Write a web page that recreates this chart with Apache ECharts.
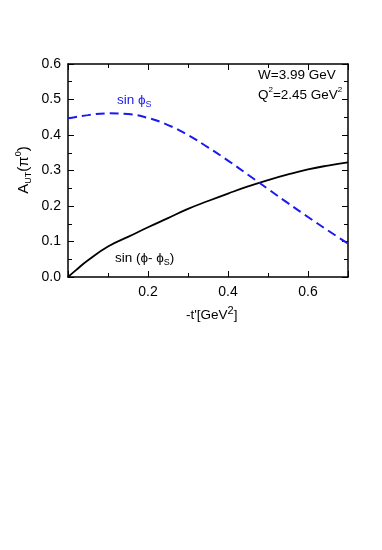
<!DOCTYPE html>
<html>
<head>
<meta charset="utf-8">
<script src="https://cdn.jsdelivr.net/npm/echarts@6/dist/echarts.min.js"></script>
<style>
html,body{margin:0;padding:0;background:#fff;}
#chart{width:382px;height:550px;}
</style>
</head>
<body>
<div id="chart"></div>
<script>
const tValues = [0, 0.02, 0.05, 0.1, 0.15, 0.2, 0.25, 0.3, 0.35, 0.4, 0.45, 0.5, 0.55, 0.6, 0.65, 0.7];
const sinPhiMinusPhiS = [0, 0.0195, 0.047, 0.086, 0.113, 0.140, 0.166, 0.192, 0.214, 0.235, 0.255, 0.273, 0.289, 0.303, 0.314, 0.323];
const sinPhiS = [0.447, 0.451, 0.456, 0.461, 0.459, 0.448, 0.428, 0.400, 0.365, 0.328, 0.288, 0.248, 0.208, 0.169, 0.131, 0.094];
const xTickLabels = ['0.2', '0.4', '0.6'];
const yTickLabels = ['0.0', '0.1', '0.2', '0.3', '0.4', '0.5', '0.6'];

const FONT = '"Liberation Sans", Arial, sans-serif';
const chart = echarts.init(document.getElementById('chart'), null, {renderer: 'canvas'});

function pairs(xs, ys) { return xs.map((x, i) => [x, ys[i]]); }

const axisCommon = {
  type: 'value',
  axisLine: {show: true, onZero: false, lineStyle: {color: '#000', width: 1.5}},
  axisTick: {show: true, inside: true, length: 6, lineStyle: {color: '#000', width: 1}},
  minorTick: {show: true, splitNumber: 2, length: 4, lineStyle: {color: '#000', width: 1}},
  splitLine: {show: false},
  minorSplitLine: {show: false}
};

chart.setOption({
  animation: false,
  backgroundColor: '#fff',
  grid: {left: 68, right: 34, top: 64, bottom: 273, containLabel: false},
  xAxis: [
    Object.assign({}, axisCommon, {
      position: 'bottom', min: 0, max: 0.7, interval: 0.2,
      axisLabel: {
        color: '#000', fontFamily: FONT, fontSize: 14, margin: 8,
        formatter: function (v) {
          const s = v.toFixed(1);
          return xTickLabels.indexOf(s) >= 0 ? s : '';
        }
      }
    }),
    Object.assign({}, axisCommon, {
      position: 'top', min: 0, max: 0.7, interval: 0.2,
      axisLabel: {show: false}
    })
  ],
  yAxis: [
    Object.assign({}, axisCommon, {
      position: 'left', min: 0, max: 0.6, interval: 0.1,
      axisLabel: {
        color: '#000', fontFamily: FONT, fontSize: 14, margin: 7,
        formatter: function (v) {
          const s = v.toFixed(1);
          return yTickLabels.indexOf(s) >= 0 ? s : '';
        }
      }
    }),
    Object.assign({}, axisCommon, {
      position: 'right', min: 0, max: 0.6, interval: 0.1,
      axisLabel: {show: false}
    })
  ],
  series: [
    {
      name: 'sin (ϕ- ϕS)', type: 'line', smooth: 0.5, symbol: 'none',
      xAxisIndex: 0, yAxisIndex: 0,
      lineStyle: {color: '#000', width: 1.8},
      data: pairs(tValues, sinPhiMinusPhiS)
    },
    {
      name: 'sin ϕS', type: 'line', smooth: 0.5, symbol: 'none',
      xAxisIndex: 0, yAxisIndex: 0,
      lineStyle: {color: '#1a1aee', width: 2, type: [9, 5]},
      data: pairs(tValues, sinPhiS)
    }
  ],
  graphic: [
    {
      type: 'text', left: 258, top: 68,
      style: {text: 'W=3.99 GeV', font: '13.5px ' + FONT, fill: '#000'}
    },
    {
      type: 'text', left: 258, top: 86,
      style: {
        text: '{n|Q}{s|2}{n|=2.45 GeV}{s|2}', fill: '#000',
        rich: {
          n: {fontFamily: FONT, fontSize: 13.5, fill: '#000', verticalAlign: 'bottom', lineHeight: 16},
          s: {fontFamily: FONT, fontSize: 8, fill: '#000', verticalAlign: 'top', lineHeight: 16, padding: [0, 0, 8, 0]}
        }
      }
    },
    {
      type: 'text', left: 117, top: 92,
      style: {
        text: '{n|sin ϕ}{s|S}', fill: '#1a1aee',
        rich: {
          n: {fontFamily: FONT, fontSize: 13.5, fill: '#1a1aee', lineHeight: 16},
          s: {fontFamily: FONT, fontSize: 9, fill: '#1a1aee', lineHeight: 16, padding: [8, 0, 0, 0]}
        }
      }
    },
    {
      type: 'text', left: 115, top: 250,
      style: {
        text: '{n|sin (ϕ- ϕ}{s|S}{n|)}', fill: '#000',
        rich: {
          n: {fontFamily: FONT, fontSize: 13.5, fill: '#000', lineHeight: 16},
          s: {fontFamily: FONT, fontSize: 9, fill: '#000', lineHeight: 16, padding: [8, 0, 0, 0]}
        }
      }
    },
    {
      type: 'text', left: 186, top: 304,
      style: {
        text: '{n|-t\'[GeV}{s|2}{n|]}', fill: '#000',
        rich: {
          n: {fontFamily: FONT, fontSize: 13.5, fill: '#000', lineHeight: 18, padding: [4, 0, 0, 0]},
          s: {fontFamily: FONT, fontSize: 11, fill: '#000', lineHeight: 18, padding: [0, 0, 4, 0]}
        }
      }
    },
    {
      type: 'text', x: 24, y: 170, rotation: Math.PI / 2,
      style: {
        text: '{n|A}{sub|UT}{n|(π}{sup|0}{n|)}', fill: '#000', align: 'center', verticalAlign: 'middle',
        rich: {
          n: {fontFamily: FONT, fontSize: 15, fill: '#000', lineHeight: 20},
          sub: {fontFamily: FONT, fontSize: 9, fill: '#000', lineHeight: 20, padding: [10, 0, 0, 0]},
          sup: {fontFamily: FONT, fontSize: 9, fill: '#000', lineHeight: 20, padding: [0, 0, 10, 0]}
        }
      }
    }
  ]
});
</script>
</body>
</html>
